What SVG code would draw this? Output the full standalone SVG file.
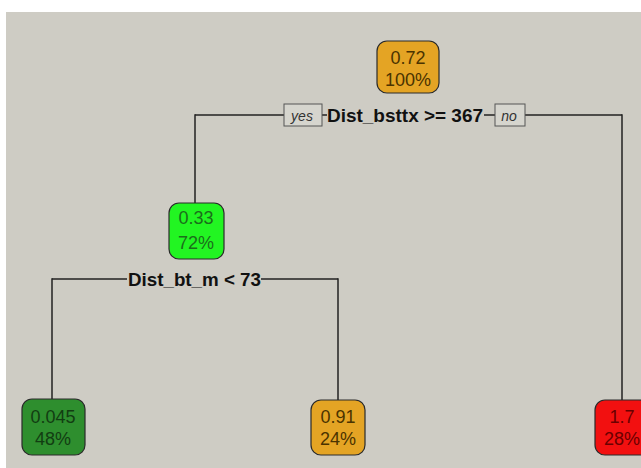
<svg xmlns="http://www.w3.org/2000/svg" width="641" height="468" viewBox="0 0 641 468">
<style>
.node rect{stroke:#2a2a2a;stroke-width:1.2}
.nt{font-family:"Liberation Sans",Arial,sans-serif;font-size:18px;text-anchor:middle}
.split{font-family:"Liberation Sans",Arial,sans-serif;font-size:18px;font-weight:bold;fill:#111}
.lab rect{fill:#D6D5CE;stroke:#555;stroke-width:1}
.lab text{font-family:"Liberation Sans",Arial,sans-serif;font-size:14px;font-style:italic;fill:#333;text-anchor:middle}
.conn line{stroke:#222;stroke-width:1.5}
</style>
<rect x="0" y="0" width="641" height="468" fill="#ffffff"/>
<rect x="6" y="12" width="635" height="456" fill="#CECCC4"/>
<g id="connectors" class="conn">
<line x1="195" y1="115" x2="284" y2="115"/>
<line x1="195" y1="114.3" x2="195" y2="203"/>
<line x1="322" y1="115" x2="327" y2="115"/>
<line x1="484" y1="115" x2="495" y2="115"/>
<line x1="525" y1="115" x2="622" y2="115"/>
<line x1="622" y1="114.3" x2="622" y2="400"/>
<line x1="52" y1="279" x2="127" y2="279"/>
<line x1="52" y1="278.3" x2="52" y2="399"/>
<line x1="261" y1="279" x2="338" y2="279"/>
<line x1="338" y1="278.3" x2="338" y2="400"/>
</g>
<g id="split1">
<text class="split" x="327" y="122" textLength="156" lengthAdjust="spacingAndGlyphs">Dist_bsttx &gt;= 367</text>
<g class="lab"><rect x="284" y="104" width="38" height="22"/><text x="302" y="121">yes</text></g>
<g class="lab"><rect x="495" y="104" width="30" height="22"/><text x="509" y="121">no</text></g>
</g>
<g id="split2">
<text class="split" x="128" y="286" textLength="133" lengthAdjust="spacingAndGlyphs">Dist_bt_m &lt; 73</text>
</g>
<g id="node1" class="node">
<rect x="377" y="41" width="62" height="52" rx="10" fill="#E4A424"/>
<text class="nt" x="408" y="64" fill="#4a3300">0.72</text>
<text class="nt" x="408" y="86" fill="#4a3300">100%</text>
</g>
<g id="node2" class="node">
<rect x="169" y="203" width="55" height="56" rx="10" fill="#22F522"/>
<text class="nt" x="196" y="224" fill="#1b6e1b">0.33</text>
<text class="nt" x="196" y="249" fill="#1b6e1b">72%</text>
</g>
<g id="node3" class="node">
<rect x="22" y="399" width="63" height="56" rx="10" fill="#2E8E2E"/>
<text class="nt" x="53" y="423" fill="#123d12">0.045</text>
<text class="nt" x="53" y="445" fill="#123d12">48%</text>
</g>
<g id="node4" class="node">
<rect x="311" y="400" width="54" height="55" rx="10" fill="#E4A424"/>
<text class="nt" x="338" y="423" fill="#4a3300">0.91</text>
<text class="nt" x="338" y="445" fill="#4a3300">24%</text>
</g>
<g id="node5" class="node">
<rect x="595" y="400" width="54" height="55" rx="10" fill="#F21010"/>
<text class="nt" x="622" y="423" fill="#6a0000">1.7</text>
<text class="nt" x="622" y="445" fill="#6a0000">28%</text>
</g>
</svg>
